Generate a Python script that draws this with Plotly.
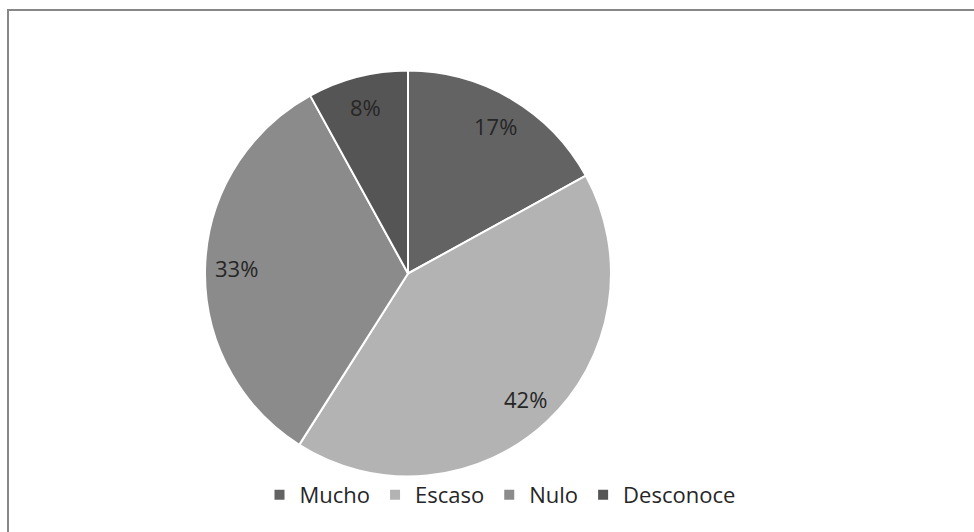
import math
import plotly.graph_objects as go

# Survey answers and their shares (%)
categories = ["Mucho", "Escaso", "Nulo", "Desconoce"]
shares = [17, 42, 33, 8]
colors = ["#636363", "#b3b3b3", "#8b8b8b", "#555555"]

W, H = 974, 532
cx, cy, r = 408, 273.5, 203  # pie centre and radius in pixels
label_k = 0.845              # labels sit near the rim, like "best fit"

fig = go.Figure(
    go.Pie(
        labels=categories,
        values=shares,
        sort=False,
        direction="clockwise",
        rotation=0,
        marker=dict(colors=colors, line=dict(color="#ffffff", width=2)),
        textinfo="none",
        hoverinfo="label+percent",
        domain=dict(x=[(cx - r) / W, (cx + r) / W],
                    y=[(H - cy - r) / H, (H - cy + r) / H]),
    )
)

# Percentage labels placed at the middle angle of each slice
total = sum(shares)
cum = 0
for cat, v in zip(categories, shares):
    theta = 2 * math.pi * (cum + v / 2) / total
    px = cx + label_k * r * math.sin(theta)
    py = cy - label_k * r * math.cos(theta)
    fig.add_annotation(
        x=px / W, y=1 - py / H, xref="paper", yref="paper",
        text=f"{round(100 * v / total)}%", showarrow=False,
        xanchor="center", yanchor="middle",
        font=dict(family="Open Sans", size=22, color="#262626"),
    )
    cum += v

# Chart-area frame
fig.add_shape(
    type="rect", xref="paper", yref="paper",
    x0=8 / W, x1=1.02, y0=-0.02, y1=1 - 10 / H,
    line=dict(color="#878787", width=2), fillcolor="rgba(0,0,0,0)",
    layer="above",
)

fig.update_layout(
    width=W, height=H,
    margin=dict(l=0, r=0, t=0, b=0),
    paper_bgcolor="#ffffff",
    plot_bgcolor="#ffffff",
    showlegend=True,
    legend=dict(
        orientation="h", x=500 / W, xanchor="center",
        y=1 - 495 / H, yanchor="middle",
        font=dict(family="Open Sans", size=22, color="#262626"),
        bgcolor="rgba(0,0,0,0)", itemclick=False, itemdoubleclick=False,
    ),
)

fig.write_html("out.html")
